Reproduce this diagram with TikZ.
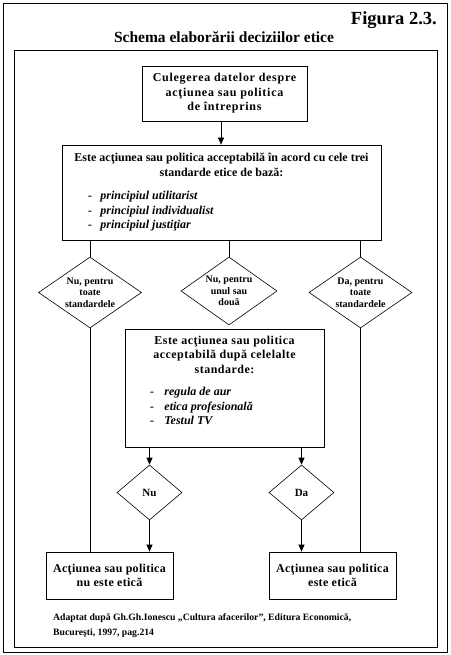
\documentclass[tikz,border=0pt]{standalone}
\usepackage{fontspec}
\setmainfont{Liberation Serif}
\newfontfamily\spcA[LetterSpace=6]{Liberation Serif}
\newfontfamily\spcB[LetterSpace=4]{Liberation Serif}
\newfontfamily\spcC[LetterSpace=2.5]{Liberation Serif}
\usetikzlibrary{arrows.meta,shapes.geometric}
\begin{document}
\begin{tikzpicture}[x=1pt,y=-1pt,
  frame/.style={draw,line width=1pt,inner sep=0pt,anchor=north west},
  box/.style={draw,line width=0.8pt,inner sep=0pt,align=center,font=\bfseries\fontsize{12}{14.5}\selectfont},
  dia/.style={draw,diamond,line width=0.6pt,inner sep=0pt},
  dtext/.style={align=center,inner sep=0pt,font=\bfseries\fontsize{10}{11.5}\selectfont},
  arr/.style={-{Triangle[length=7pt,width=6pt]},line width=0.7pt},
  ln/.style={line width=0.7pt}]
\useasboundingbox (0,0) rectangle (450,655);
\fill[white] (0,0) rectangle (450,655);
\node[frame,minimum width=444pt,minimum height=649pt] (outer) at (3,3) {};
\node[frame,minimum width=423pt,minimum height=597pt] (inner) at (14,50) {};
\node[anchor=base east,inner sep=0pt,font=\bfseries\fontsize{18.5}{20}\selectfont] (fig) at (437,25) {Figura 2.3.};
\node[anchor=base,inner sep=0pt,font=\bfseries\fontsize{15.5}{17}\selectfont] (title) at (224,43) {Schema elaborării deciziilor etice};
% boxes
\node[box,minimum width=165pt,minimum height=55pt,font=\spcA\bfseries\fontsize{12}{14.5}\selectfont] (b1) at (224.5,93.5) {Culegerea datelor despre\\acţiunea sau politica\\de întreprins};
\node[box,minimum width=319pt,minimum height=95pt] (b2) at (221.5,192.5) {\begin{minipage}{300pt}\centering
Este acţiunea sau politica acceptabilă în acord cu cele trei\\standarde etice de bază:\par\vspace{9pt}
\raggedright\itshape
\hspace*{16.5pt}-\hspace{8.5pt}principiul utilitarist\\
\hspace*{16.5pt}-\hspace{8.5pt}principiul individualist\\
\hspace*{16.5pt}-\hspace{8.5pt}principiul justiţiar\par
\end{minipage}};
\node[box,minimum width=199pt,minimum height=118pt] (b3) at (224.5,388) {\begin{minipage}[c][112pt][t]{185pt}\vspace*{4pt}\centering
{\spcB Este acţiunea sau politica\\acceptabilă după celelalte\\standarde:}\par\vspace{8pt}
\raggedright\itshape
\hspace*{18pt}-\hspace{10.5pt}regula de aur\\
\hspace*{18pt}-\hspace{10.5pt}etica profesională\\
\hspace*{18pt}-\hspace{10.5pt}Testul TV\par
\end{minipage}};
\node[box,minimum width=127pt,minimum height=47pt,font=\spcC\bfseries\fontsize{12}{14.5}\selectfont] (bl) at (109.5,575.5) {Acţiunea sau politica\\nu este etică};
\node[box,minimum width=127pt,minimum height=47pt,font=\spcC\bfseries\fontsize{12}{14.5}\selectfont] (br) at (332.5,575.5) {Acţiunea sau politica\\este etică};
% diamonds
\node[dia,minimum width=103pt,minimum height=71pt] (d1) at (90,292.5) {};
\node[dtext] (t1) at (d1.center) {Nu, pentru\\toate\\standardele};
\node[dia,minimum width=96pt,minimum height=68pt] (d2) at (229,291) {};
\node[dtext] (t2) at (d2.center) {Nu, pentru\\unul sau\\două};
\node[dia,minimum width=103pt,minimum height=71pt] (d3) at (360.5,292.5) {};
\node[dtext] (t3) at (d3.center) {Da, pentru\\toate\\standardele};
\node[dia,minimum width=65pt,minimum height=55pt] (nu) at (149.5,492.5) {};
\node[dtext,font=\bfseries\fontsize{11}{13}\selectfont] (tnu) at (nu.center) {Nu};
\node[dia,minimum width=65pt,minimum height=55pt] (da) at (301.5,492.5) {};
\node[dtext,font=\bfseries\fontsize{11}{13}\selectfont] (tda) at (da.center) {Da};
% caption
\node[anchor=base west,align=left,inner sep=0pt,font=\bfseries\fontsize{9.7}{15}\selectfont] (cap) at (53,635) {Adaptat după Gh.Gh.Ionescu „Cultura afacerilor”, Editura Economică,\\Bucureşti, 1997, pag.214};
% connectors
\coordinate (c1) at (221,0);
\draw[arr] (b1.south -| c1) -- (b2.north -| c1);
\draw[ln] (b2.south -| d1) -- (d1.north);
\draw[ln] (b2.south -| d2) -- (d2.north);
\draw[ln] (b2.south -| d3) -- (d3.north);
\draw[arr] (b3.south -| nu) -- (nu.north);
\draw[arr] (b3.south -| da) -- (da.north);
\draw[arr] (nu.south) -- (bl.north -| nu);
\draw[arr] (da.south) -- (br.north -| da);
\draw[ln] (d1.south) -- (bl.north -| d1);
\draw[ln] (d3.south) -- (br.north -| d3);
\end{tikzpicture}
\end{document}
